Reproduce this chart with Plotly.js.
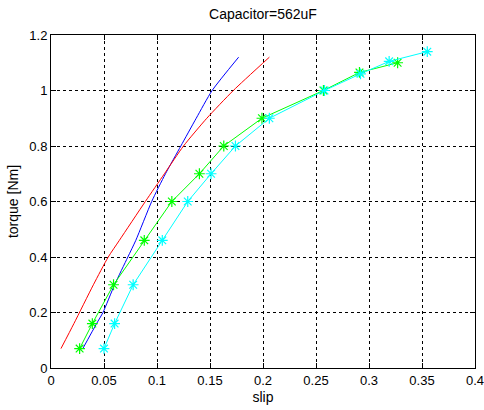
<!DOCTYPE html>
<html>
<head>
<meta charset="utf-8">
<script src="https://cdn.plot.ly/plotly-3.0.1.min.js"></script>
<style>
  html, body { margin: 0; padding: 0; background: #ffffff; }
  #chart { width: 484px; height: 410px; }
</style>
</head>
<body>
<div id="chart"></div>
<script>
// Data
const blueSlip   = [0.030, 0.043, 0.049, 0.060, 0.0725, 0.080, 0.095, 0.108, 0.1225, 0.137, 0.152, 0.177];
const blueTorque = [0.07, 0.16, 0.20, 0.30, 0.40, 0.46, 0.60, 0.70, 0.80, 0.90, 1.00, 1.12];

const redSlip    = [0.0094, 0.0216, 0.040, 0.054, 0.0645, 0.089, 0.107, 0.125, 0.147, 0.172, 0.206];
const redTorque  = [0.07, 0.16, 0.30, 0.40, 0.46, 0.60, 0.70, 0.80, 0.90, 1.00, 1.12];

const greenSlip   = [0.027, 0.039, 0.059, 0.088, 0.114, 0.140, 0.163, 0.199, 0.257, 0.291, 0.327];
const greenTorque = [0.07, 0.16, 0.30, 0.46, 0.60, 0.70, 0.80, 0.90, 1.00, 1.065, 1.10];

const cyanSlip   = [0.050, 0.060, 0.0775, 0.105, 0.129, 0.151, 0.174, 0.206, 0.258, 0.292, 0.319, 0.355];
const cyanTorque = [0.07, 0.16, 0.30, 0.46, 0.60, 0.70, 0.80, 0.90, 1.00, 1.06, 1.105, 1.14];

const titleText = "Capacitor=562uF";
const xLabel = "slip";
const yLabel = "torque [Nm]";

const FONT = "Liberation Sans, Arial, sans-serif";

const traces = [
  { x: blueSlip, y: blueTorque, mode: "lines", line: { color: "#0000ff", width: 1, shape: "spline", smoothing: 0.6 } },
  { x: redSlip, y: redTorque, mode: "lines", line: { color: "#ff0000", width: 1, shape: "spline", smoothing: 0.6 } },
  { x: greenSlip, y: greenTorque, mode: "lines+markers", line: { color: "#00ff00", width: 1 },
    marker: { symbol: "asterisk-open", size: 9, color: "#00ff00", line: { color: "#00ff00", width: 1.2 } } },
  { x: cyanSlip, y: cyanTorque, mode: "lines+markers", line: { color: "#00ffff", width: 1 },
    marker: { symbol: "asterisk-open", size: 9, color: "#00ffff", line: { color: "#00ffff", width: 1.2 } } }
];

const axisCommon = {
  showline: true, linecolor: "#000000", linewidth: 1, mirror: "ticks",
  ticks: "inside", ticklen: 5, tickcolor: "#000000", tickwidth: 1,
  showgrid: true, gridcolor: "#000000", griddash: "3px,3px", gridwidth: 1,
  zeroline: false, ticklabeloverflow: "allow",
  tickfont: { family: FONT, size: 13, color: "#000000" }
};

const layout = {
  width: 484, height: 410,
  margin: { l: 51, r: 9, t: 35, b: 42 },
  paper_bgcolor: "#ffffff", plot_bgcolor: "#ffffff",
  showlegend: false,
  font: { family: FONT, size: 14, color: "#000000" },
  title: { text: titleText, font: { family: FONT, size: 14, color: "#000000" },
           xref: "paper", x: 0.5, xanchor: "center", yref: "container", y: 1 - 14 / 410, yanchor: "middle" },
  xaxis: Object.assign({}, axisCommon, {
    range: [0, 0.4], dtick: 0.05, tick0: 0,
    title: { text: xLabel, font: { family: FONT, size: 14, color: "#000000" }, standoff: 5 }
  }),
  yaxis: Object.assign({}, axisCommon, {
    range: [0, 1.2], dtick: 0.2, tick0: 0,
    title: { text: yLabel, font: { family: FONT, size: 14, color: "#000000" }, standoff: 7 }
  })
};

Plotly.newPlot("chart", traces, layout, { displayModeBar: false, staticPlot: true });
</script>
</body>
</html>
